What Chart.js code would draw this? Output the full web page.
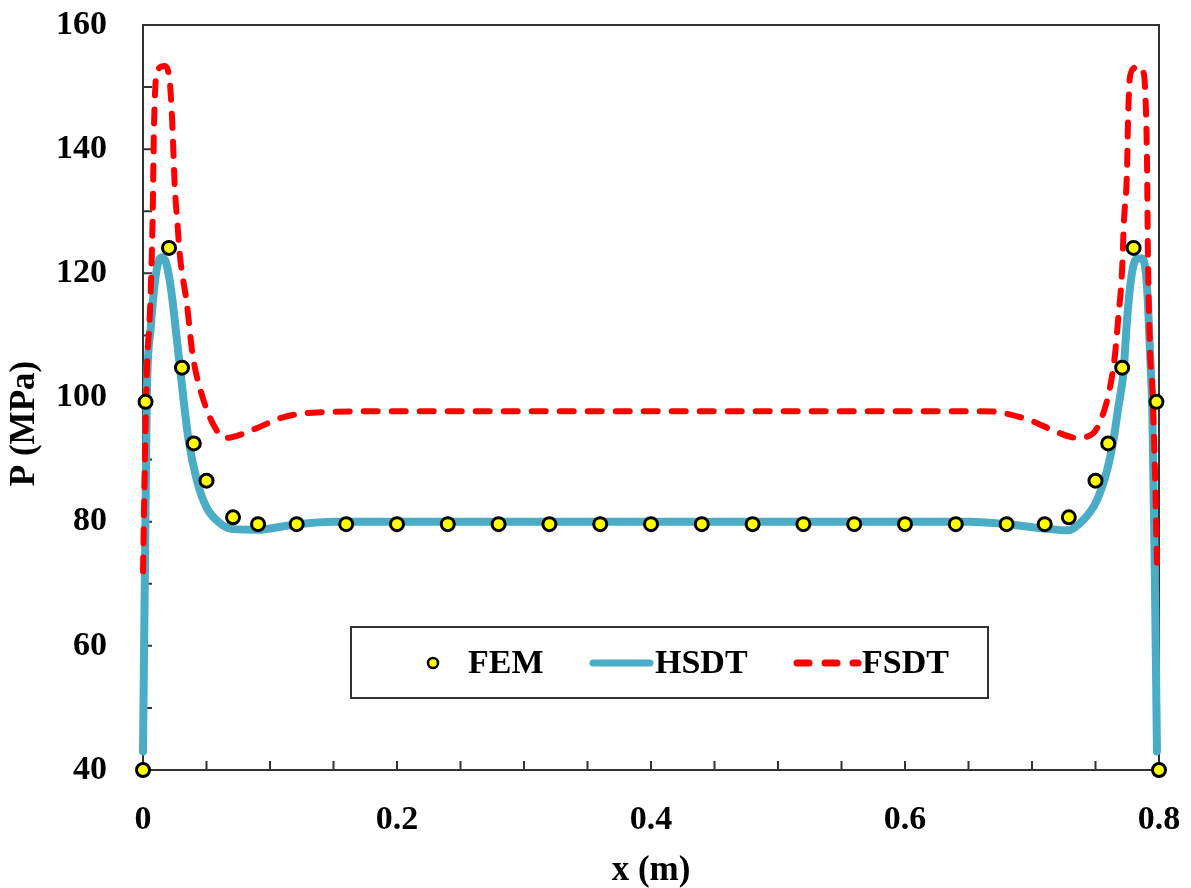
<!DOCTYPE html>
<html>
<head>
<meta charset="utf-8">
<script src="https://cdn.jsdelivr.net/npm/chart.js@4.4.1/dist/chart.umd.min.js"></script>
<style>
  body { margin: 0; background: #fff; }
  canvas { display: block; }
</style>
</head>
<body>
<canvas id="myChart" width="1191" height="888"></canvas>
<script>
// data
const femX = [0, 0.002, 0.0205, 0.0307, 0.04, 0.05, 0.0709, 0.0906, 0.121, 0.16, 0.2, 0.24, 0.28, 0.32, 0.36, 0.4, 0.44, 0.48, 0.52, 0.56, 0.6, 0.64, 0.68, 0.71, 0.729, 0.75, 0.76, 0.771, 0.78, 0.798, 0.8];
const femP = [40, 99.3, 124.1, 104.8, 92.6, 86.6, 80.7, 79.6, 79.6, 79.6, 79.6, 79.6, 79.6, 79.6, 79.6, 79.6, 79.6, 79.6, 79.6, 79.6, 79.6, 79.6, 79.6, 79.6, 80.7, 86.6, 92.6, 104.8, 124.1, 99.3, 40];

const hsdtX = [0, 0.0015, 0.003, 0.006, 0.009, 0.012, 0.015, 0.018, 0.0205, 0.023, 0.0255, 0.0285, 0.032, 0.036, 0.0425, 0.05, 0.061, 0.071, 0.09, 0.121, 0.15, 0.25, 0.4, 0.55, 0.65, 0.675, 0.71, 0.728, 0.74, 0.751, 0.759, 0.764, 0.768, 0.772, 0.775, 0.779, 0.783, 0.787, 0.7905, 0.793, 0.7948, 0.7965, 0.7984];
const hsdtP = [43, 72, 100, 111, 118, 121.8, 122.6, 121.8, 119.5, 116, 111.5, 106, 99.5, 93, 86.6, 82.3, 79.7, 78.8, 78.7, 79.6, 80, 80, 80, 80, 80, 79.7, 78.9, 78.6, 80.2, 83.4, 88.2, 93, 98.5, 104, 113, 120.4, 122.4, 122.4, 118, 107, 97, 75, 43];

const fsdtX = [0, 0.0015, 0.003, 0.0055, 0.0075, 0.0087, 0.011, 0.017, 0.021, 0.023, 0.025, 0.027, 0.029, 0.0346, 0.039, 0.047, 0.058, 0.066, 0.075, 0.09, 0.11, 0.137, 0.2, 0.4, 0.6, 0.66, 0.675, 0.7, 0.72, 0.735, 0.748, 0.756, 0.7614, 0.7654, 0.7677, 0.7709, 0.7724, 0.7748, 0.7756, 0.777, 0.78, 0.783, 0.7875, 0.789, 0.7905, 0.7913, 0.793, 0.7945, 0.797, 0.7984];
const fsdtP = [72, 90, 104, 114, 128, 144, 152.5, 153.4, 151, 144.5, 134, 128.4, 123, 115, 107, 100, 94.7, 93.5, 93.9, 95.1, 96.8, 97.6, 97.8, 97.8, 97.8, 97.8, 97.6, 96.2, 94.4, 93.5, 94.2, 97.4, 101.6, 107, 112.3, 120.4, 128.4, 136.5, 144.5, 151.4, 153, 153.4, 152.5, 150, 139, 123, 107, 102.7, 86.6, 73];

const xTickLabels = [0, 0.2, 0.4, 0.6, 0.8];
const yTickLabels = [40, 60, 80, 100, 120, 140, 160];

function toPoints(xs, ys) {
    return xs.map((x, i) => ({ x: x, y: ys[i] }));
}

const serif = "'Liberation Serif', 'Times New Roman', serif";
const frameColor = '#333333';

// frame, inward ticks, y title
const framePlugin = {
    id: 'frame',
    beforeDatasetsDraw(chart) {
        const { ctx, chartArea: a, scales: { x, y } } = chart;
        ctx.save();
        ctx.strokeStyle = frameColor;
        ctx.lineWidth = 2;
        ctx.strokeRect(a.left, a.top, a.right - a.left, a.bottom - a.top);
        ctx.beginPath();
        for (let i = 0; i <= 16; i++) {
            const px = x.getPixelForValue(i * 0.05);
            ctx.moveTo(px, a.bottom);
            ctx.lineTo(px, a.bottom - 9);
        }
        for (let i = 0; i <= 12; i++) {
            const py = y.getPixelForValue(40 + i * 10);
            ctx.moveTo(a.left, py);
            ctx.lineTo(a.left + 9, py);
        }
        ctx.stroke();

        ctx.translate(25, (a.top + a.bottom) / 2 + 26);
        ctx.rotate(-Math.PI / 2);
        ctx.font = "bold 35px " + serif;
        ctx.fillStyle = '#000';
        ctx.textAlign = 'center';
        ctx.textBaseline = 'middle';
        ctx.fillText('P (MPa)', 0, 0);
        ctx.restore();
    },
    afterDraw(chart) {
        const ctx = chart.ctx;
        const ds = chart.data.datasets;
        ctx.save();
        ctx.fillStyle = '#fff';
        ctx.fillRect(351, 627, 637, 71);
        ctx.strokeStyle = frameColor;
        ctx.lineWidth = 2;
        ctx.strokeRect(351, 627, 637, 71);
        const cy = 663;

        // FEM
        ctx.beginPath();
        ctx.arc(433, cy, 5, 0, Math.PI * 2);
        ctx.fillStyle = ds[0].backgroundColor;
        ctx.fill();
        ctx.lineWidth = 2.5;
        ctx.strokeStyle = ds[0].borderColor;
        ctx.stroke();

        // HSDT
        ctx.lineCap = 'round';
        ctx.beginPath();
        ctx.moveTo(593, cy);
        ctx.lineTo(650, cy);
        ctx.lineWidth = 7;
        ctx.strokeStyle = ds[1].borderColor;
        ctx.stroke();

        // FSDT
        ctx.beginPath();
        ctx.setLineDash([12, 16]);
        ctx.moveTo(797, cy);
        ctx.lineTo(858, cy);
        ctx.lineWidth = 7;
        ctx.strokeStyle = ds[2].borderColor;
        ctx.stroke();
        ctx.setLineDash([]);

        ctx.font = "bold 34px " + serif;
        ctx.fillStyle = '#000';
        ctx.textBaseline = 'middle';
        ctx.textAlign = 'left';
        ctx.fillText('FEM', 468, cy + 1);
        ctx.fillText('HSDT', 655, cy + 1);
        ctx.fillText('FSDT', 862, cy + 1);
        ctx.restore();
    }
};

const ctx = document.getElementById('myChart').getContext('2d');
const myChart = new Chart(ctx, {
    type: 'line',
    data: {
        datasets: [
            {
                label: 'FEM',
                data: toPoints(femX, femP),
                showLine: false,
                pointRadius: 6.5,
                pointBorderWidth: 3,
                backgroundColor: '#FFFF00',
                borderColor: '#000000',
                clip: false,
                order: 0
            },
            {
                label: 'HSDT',
                data: toPoints(hsdtX, hsdtP),
                borderColor: '#4BACC6',
                borderWidth: 8,
                pointRadius: 0,
                cubicInterpolationMode: 'monotone',
                borderCapStyle: 'round',
                borderJoinStyle: 'round',
                clip: false,
                order: 2
            },
            {
                label: 'FSDT',
                data: toPoints(fsdtX, fsdtP),
                borderColor: '#FF0000',
                borderWidth: 6,
                borderDash: [14, 14],
                borderCapStyle: 'round',
                pointRadius: 0,
                cubicInterpolationMode: 'monotone',
                clip: false,
                order: 1
            }
        ]
    },
    options: {
        responsive: false,
        animation: false,
        layout: {
            padding: 0
        },
        plugins: {
            legend: { display: false },
            tooltip: { enabled: false }
        },
        scales: {
            x: {
                type: 'linear',
                min: 0,
                max: 0.8,
                afterBuildTicks: (s) => { s.ticks = xTickLabels.map(v => ({ value: v })); },
                afterFit: (s) => {
                    s.height = 118;
                    s.paddingLeft = 0;
                    s.paddingRight = 32;
                },
                grid: { display: false },
                border: { display: false },
                ticks: {
                    color: '#000',
                    padding: 22,
                    maxRotation: 0,
                    autoSkip: false,
                    font: { family: serif, size: 34, weight: 'bold' },
                    callback: (v) => String(v)
                },
                title: {
                    display: true,
                    text: 'x (m)',
                    color: '#000',
                    padding: 0,
                    font: { family: serif, size: 35, weight: 'bold', lineHeight: 1 }
                }
            },
            y: {
                min: 40,
                max: 160,
                afterBuildTicks: (s) => { s.ticks = yTickLabels.map(v => ({ value: v })); },
                afterFit: (s) => {
                    s.width = 143;
                    s.paddingTop = 25;
                    s.paddingBottom = 0;
                },
                grid: { display: false },
                border: { display: false },
                ticks: {
                    color: '#000',
                    padding: 28,
                    autoSkip: false,
                    font: { family: serif, size: 34, weight: 'bold' },
                    callback: (v) => String(v)
                }
            }
        }
    },
    plugins: [framePlugin]
});
</script>
</body>
</html>
